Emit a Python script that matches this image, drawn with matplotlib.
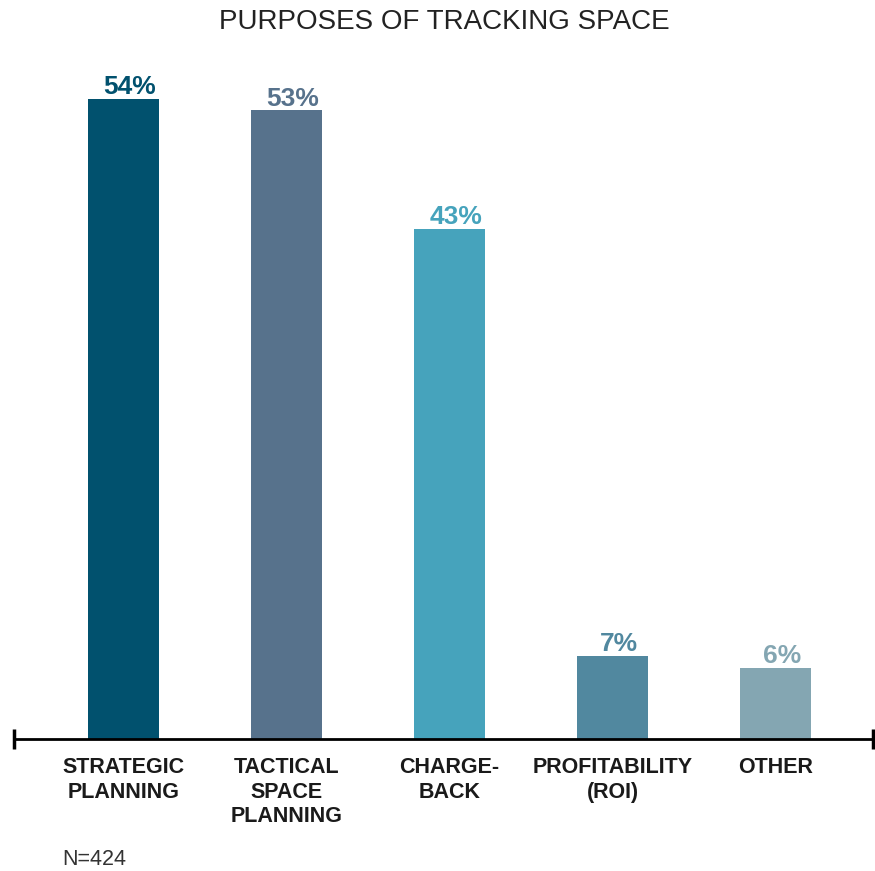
import matplotlib.pyplot as plt

# data
categories = ['STRATEGIC\nPLANNING', 'TACTICAL\nSPACE\nPLANNING', 'CHARGE-\nBACK',
              'PROFITABILITY\n(ROI)', 'OTHER']
values = [54, 53, 43, 7, 6]
value_labels = ['54%', '53%', '43%', '7%', '6%']
colors = ['#01516e', '#57728c', '#46a3bc', '#51889f', '#84a6b2']

plt.rcParams['font.family'] = ['Liberation Sans', 'DejaVu Sans']

fig = plt.figure(figsize=(8.75, 8.71), dpi=100)
ax = fig.add_axes([14 / 875, 132 / 871, 859 / 875, 711.6 / 871])

x = list(range(len(values)))
ax.bar(x, values, width=71 / 163, color=colors)

for xi, v, lab, c in zip(x, values, value_labels, colors):
    ax.text(xi + 0.04, v + 0.4, lab, ha='center', va='baseline', color=c,
            fontsize=19, fontweight='bold')

ax.set_xlim(-0.672, 4.598)
ax.set_ylim(0, 60)

# axis line with end caps
for s in ['top', 'right', 'left']:
    ax.spines[s].set_visible(False)
ax.spines['bottom'].set_linewidth(2)
ax.plot([0, 1], [0, 0], transform=ax.transAxes, marker='|', markersize=14,
        markeredgewidth=2.5, color='black', clip_on=False, linestyle='none')

ax.set_yticks([])
ax.set_xticks(x)
ax.set_xticklabels(categories, fontsize=15.5, fontweight='bold', linespacing=1.22,
                   color='#1a1a1a')
ax.tick_params(axis='x', length=0, pad=13)

fig.text(444 / 875, 1 - 22 / 871, 'PURPOSES OF TRACKING SPACE', ha='center', va='center',
         fontsize=20, color='#222222')
fig.text(62 / 875, 1 - 859 / 871, 'N=424', ha='left', va='center', fontsize=15.5,
         color='#333333')

fig.savefig('out.png', dpi=100)
